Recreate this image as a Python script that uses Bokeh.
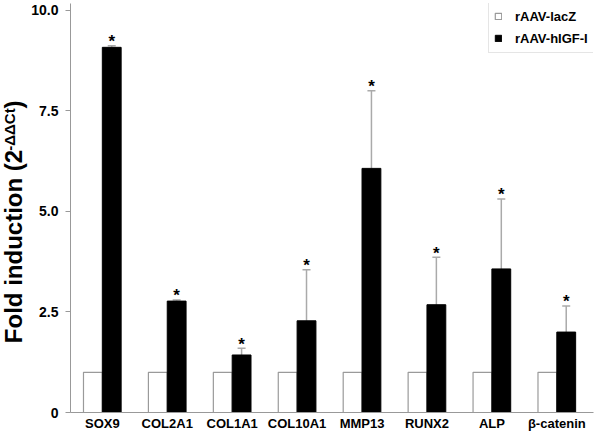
import numpy as np
from bokeh.plotting import figure
from bokeh.layouts import row
from bokeh.models import (ColumnDataSource, Range1d, FixedTicker, NumeralTickFormatter,
                          Legend, LegendItem, Label, Whisker, TeeHead)
from bokeh.core.properties import value
from bokeh.transform import dodge
from bokeh.embed import file_html
from bokeh.resources import INLINE

# ---- data ----
genes = ["SOX9", "COL2A1", "COL1A1", "COL10A1", "MMP13", "RUNX2", "ALP", "\u03b2-catenin"]
lacz = [1.0, 1.0, 1.0, 1.0, 1.0, 1.0, 1.0, 1.0]
higf = [9.08, 2.77, 1.43, 2.28, 6.07, 2.68, 3.57, 2.00]
higf_err = [0.04, 0.03, 0.17, 1.27, 1.93, 1.18, 1.74, 0.65]
y_ticks = [0, 2.5, 5, 7.5, 10]
y_tick_labels = {0: "0"}
series_names = ["rAAV-lacZ", "rAAV-hIGF-I"]
y_title = ["Fold induction (2", "-\u0394\u0394Ct", ")"]

FONT = "Liberation Sans"
W, H = 600, 442
TW = 28   # width of the strip that holds the rotated y title
BT, BB = 3, 30  # top / bottom borders shared by both panels

xs = np.arange(len(genes))
src = ColumnDataSource(dict(
    x=xs, lacz=lacz, higf=higf,
    upper=np.array(higf) + np.array(higf_err),
    star=["*"] * len(genes),
))

# ---- y-axis title strip (its data units equal pixels, y measured from the bottom) ----
t = figure(width=TW, height=H, output_backend="svg", toolbar_location=None,
           x_range=Range1d(0, TW), y_range=Range1d(BB, H - BT),
           min_border_left=0, min_border_right=0, min_border_top=BT, min_border_bottom=BB,
           x_axis_type=None, y_axis_type=None)
t.outline_line_color = None
t.xgrid.visible = False
t.ygrid.visible = False
ang = np.pi / 2
t.add_layout(Label(x=12.5, y=196, text=y_title[0], angle=ang, text_font=FONT,
                   text_font_style="bold", text_font_size="24px", text_align="center",
                   text_baseline="middle", text_color="black"))
t.add_layout(Label(x=9, y=313, text=y_title[1], angle=ang, text_font=FONT,
                   text_font_style="bold", text_font_size="15px", text_align="center",
                   text_baseline="middle", text_color="black"))
t.add_layout(Label(x=12.5, y=338, text=y_title[2], angle=ang, text_font=FONT,
                   text_font_style="bold", text_font_size="24px", text_align="center",
                   text_baseline="middle", text_color="black"))

# ---- main chart ----
p = figure(width=W - TW, height=H, output_backend="svg", toolbar_location=None,
           x_range=Range1d(-0.49, 7.565), y_range=Range1d(0, 10.17),
           min_border_left=39, min_border_right=7, min_border_top=BT, min_border_bottom=BB)
p.outline_line_color = None
p.xgrid.visible = False
p.ygrid.visible = False

bw = 0.29
r_lacz = p.vbar(x=dodge("x", -0.145, range=p.x_range), top="lacz", width=bw, bottom=0,
                source=src, fill_color="white", line_color="#9a9a9a", line_width=1.2)
r_higf = p.vbar(x=dodge("x", 0.145, range=p.x_range), top="higf", width=bw, bottom=0,
                source=src, fill_color="black", line_color="black", line_width=1)

wh = Whisker(base=dodge("x", 0.145, range=p.x_range), upper="upper", lower="higf", source=src,
             dimension="height", line_color="#aaaaaa", line_width=1.5,
             upper_head=TeeHead(size=8, line_color="#aaaaaa", line_width=1.5), lower_head=None)
p.add_layout(wh)

p.text(x=dodge("x", 0.145, range=p.x_range), y="upper", text="star", source=src,
       text_align="center", text_baseline="alphabetic", text_font=value(FONT),
       text_font_style="bold", text_font_size="17px", text_color="black", y_offset=-4)

xa = p.xaxis[0]
xa.ticker = FixedTicker(ticks=list(xs))
xa.major_label_overrides = {int(i): g for i, g in zip(xs, genes)}
xa.major_tick_out = 0
xa.major_tick_in = 0
xa.major_tick_line_color = None
xa.minor_tick_line_color = None
xa.axis_line_color = "#999999"
xa.major_label_text_font = FONT
xa.major_label_text_font_style = "bold"
xa.major_label_text_font_size = "13px"
xa.major_label_text_color = "black"
xa.major_label_standoff = 3

ya = p.yaxis[0]
ya.ticker = FixedTicker(ticks=y_ticks)
ya.formatter = NumeralTickFormatter(format="0.0")
ya.major_label_overrides = y_tick_labels
ya.major_tick_out = 5
ya.major_tick_in = 0
ya.major_tick_line_color = "#999999"
ya.minor_tick_line_color = None
ya.axis_line_color = "#999999"
ya.major_label_text_font = FONT
ya.major_label_text_font_style = "bold"
ya.major_label_text_font_size = "14px"
ya.major_label_text_color = "black"
ya.major_label_standoff = 7

legend = Legend(items=[LegendItem(label=series_names[0], renderers=[r_lacz]),
                       LegendItem(label=series_names[1], renderers=[r_higf])],
                location=(418, 359), orientation="vertical")
legend.padding = 5
legend.spacing = 4
legend.label_height = 18
legend.glyph_width = 8
legend.glyph_height = 8
legend.label_standoff = 13
legend.label_width = 76
legend.border_line_color = "#cccccc"
legend.border_line_width = 1
legend.background_fill_color = "white"
legend.background_fill_alpha = 1
legend.label_text_font = FONT
legend.label_text_font_style = "bold"
legend.label_text_font_size = "13px"
legend.label_text_color = "black"
legend.margin = 0
p.add_layout(legend)

layout = row(t, p, spacing=0)
open("out.html", "w").write(file_html(layout, INLINE))
